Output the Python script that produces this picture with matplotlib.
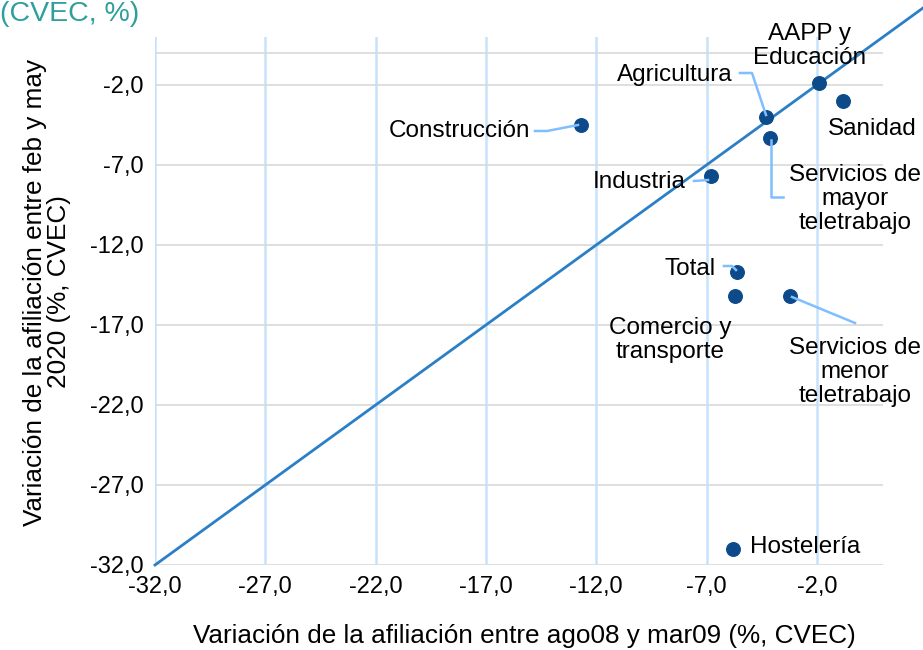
import matplotlib
matplotlib.use("Agg")
import matplotlib.pyplot as plt
from matplotlib.ticker import FuncFormatter

plt.rcParams['font.family'] = ['Liberation Sans', 'DejaVu Sans']

sectors = ["AAPP y\nEducación", "Sanidad", "Agricultura", "Servicios de\nmayor\nteletrabajo",
           "Construcción", "Industria", "Total", "Comercio y\ntransporte",
           "Servicios de\nmenor\nteletrabajo", "Hostelería"]
crisis_0809 = [-1.9, -0.8, -4.3, -4.1, -12.7, -6.8, -5.6, -5.7, -3.2, -5.8]
covid_2020 = [-1.9, -3.0, -4.0, -5.3, -4.5, -7.7, -13.7, -15.2, -15.2, -31.0]

ticks = [-32, -27, -22, -17, -12, -7, -2]
diag = [-32, 3]

W, H = 923, 650
fig = plt.figure(figsize=(W / 100, H / 100), dpi=100)
ax = fig.add_axes([155 / W, 1 - 565 / H, (883 - 155) / W, (565 - 37) / H])

ax.set_xlim(-32, 1)
ax.set_ylim(-32, 1)
ax.set_xticks(ticks)
ax.set_yticks(ticks)
fmt = FuncFormatter(lambda v, p: f"{v:.1f}".replace(".", ","))
ax.xaxis.set_major_formatter(fmt)
ax.yaxis.set_major_formatter(fmt)
ax.tick_params(length=0, labelsize=17, colors='black', pad=8)

for s in ax.spines.values():
    s.set_visible(False)

grid_blue = '#c6e2fb'
grid_gray = '#d9d9d9'
for t in ticks:
    ax.axvline(t, color=grid_blue, lw=1.8, zorder=0)
    ax.axhline(t, color=grid_gray, lw=1.2, zorder=0)
ax.axhline(0, color=grid_gray, lw=1.2, zorder=0)

ax.plot(diag, diag, color='#2a7fc6', lw=2, clip_on=False, zorder=2)
ax.scatter(crisis_0809, covid_2020, s=95, color='#0d4a8a', zorder=3, clip_on=False)

lead = '#7fbfff'
fs = 17.5


def text_px(x, y, s, ha='center'):
    fig.text(x / W, 1 - y / H, s, ha=ha, va='center', fontsize=fs, linespacing=1.1)


def lead_px(pts):
    xs = [p[0] / W for p in pts]
    ys = [1 - p[1] / H for p in pts]
    fig.add_artist(plt.Line2D(xs, ys, color=lead, lw=1.8, zorder=1))


text_px(810, 46, sectors[0])
text_px(872, 129, sectors[1])
text_px(675, 75, sectors[2])
text_px(855, 199, sectors[3])
text_px(459, 131, sectors[4])
text_px(639, 182, sectors[5])
text_px(690, 269, sectors[6])
text_px(670, 340, sectors[7])
text_px(855, 372, sectors[8])
text_px(750, 547, sectors[9], ha='left')

lead_px([(535, 131), (547, 131), (578, 125)])
lead_px([(740, 73), (752, 73), (766, 115)])
lead_px([(771, 140), (771, 197), (783, 197)])
lead_px([(694, 181), (708, 180)])
lead_px([(724, 266), (732, 266), (736, 270)])
lead_px([(792, 297), (855, 323)])

fig.text(524 / W, 1 - 636 / H, "Variación de la afiliación entre ago08 y mar09 (%, CVEC)",
         ha='center', va='center', fontsize=18.8)
fig.text(47 / W, 1 - 292 / H, "Variación de la afiliación entre feb y may\n2020 (%, CVEC)",
         ha='center', va='center', rotation=90, fontsize=18.8, linespacing=1.05)
fig.text(0, 1 - 14 / H, "(CVEC, %)", ha='left', va='center', fontsize=20.5, color='#2e9f9c')

fig.savefig("out.png", dpi=100)
